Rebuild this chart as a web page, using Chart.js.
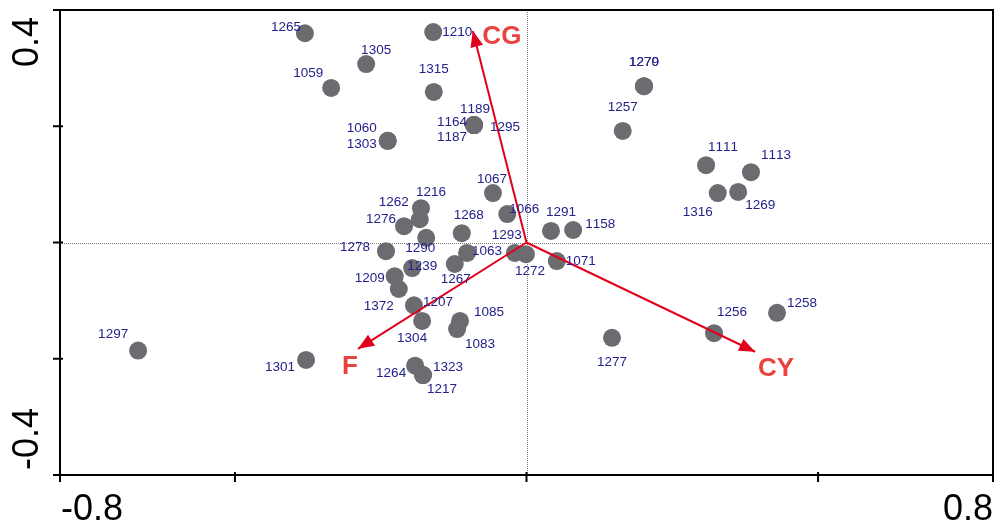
<!DOCTYPE html>
<html>
<head>
<meta charset="utf-8">
<script src="https://cdn.jsdelivr.net/npm/chart.js@4/dist/chart.umd.min.js"></script>
<style>
  html, body { margin: 0; padding: 0; background: #ffffff; }
  canvas { display: block; }
</style>
</head>
<body>
<canvas id="ordination" width="998" height="528"></canvas>
<script>
// Sample scores on the first two ordination axes
const sampleIds = ['1265','1059','1210','1305','1315','1189','1164','1187','1295','1060','1303','1257',
  '1279','1270','1067','1066','1291','1158','1268','1216','1262','1276','1290','1278','1063','1267',
  '1293','1272','1071','1239','1209','1372','1207','1304','1085','1083','1264','1323','1217','1277',
  '1297','1301','1256','1258','1111','1113','1316','1269'];
const axis1 = [-0.380,-0.335,-0.160,-0.275,-0.159,-0.090,-0.090,-0.090,-0.090,-0.238,-0.238,0.165,
  0.2015,0.2015,-0.0575,-0.033,0.042,0.080,-0.111,-0.181,-0.183,-0.210,-0.172,-0.241,-0.102,-0.123,
  -0.020,-0.001,0.052,-0.196,-0.226,-0.219,-0.193,-0.179,-0.114,-0.119,-0.191,-0.1775,-0.1775,0.1466,
  -0.666,-0.378,0.3216,0.4296,0.308,0.385,0.328,0.363];
const axis2 = [0.360,0.266,0.362,0.307,0.259,0.202,0.202,0.202,0.202,0.175,0.175,0.192,
  0.269,0.269,0.085,0.049,0.020,0.0215,0.016,0.059,0.040,0.028,0.008,-0.015,-0.018,-0.037,
  -0.018,-0.020,-0.032,-0.044,-0.058,-0.080,-0.108,-0.135,-0.135,-0.149,-0.212,-0.228,-0.228,-0.164,
  -0.186,-0.202,-0.156,-0.121,0.133,0.121,0.085,0.087];

// Environmental variable vectors
const vectorNames = ['CG', 'F', 'CY'];
const vectorX = [-0.092, -0.289, 0.392];
const vectorY = [0.364, -0.183, -0.188];

// Axis ticks
const xTickValues = [-0.8, -0.5, 0, 0.5, 0.8];
const xTickLabels = ['-0.8', '', '', '', '0.8'];
const yTickValues = [-0.4, -0.2, 0, 0.2, 0.4];
const yTickLabels = ['-0.4', '', '', '', '0.4'];

// Label placement around each marker (pixel shift of the label centre)
const labelShift = [[-19,-6],[-23,-15],[24,0],[10,-14],[0,-23],[1,-16],[-22,-3],[-22,12],[31,2],[-26,-13],[-26,3],[0,-24],
  [0,-24],[0,-24],[-1,-14],[17,-5],[10,-19],[27,-6],[7,-18],[10,-16],[-26,-17],[-23,-7],[-6,10],[-31,-4],[20,-2],[1,15],
  [-8,-18],[4,17],[24,0],[10,-2],[-25,2],[-20,17],[24,-3],[-10,17],[29,-9],[23,15],[-24,8],[25,-8],[19,14],[0,24],
  [-25,-16],[-26,7],[18,-21],[25,-10],[17,-18],[25,-17],[-20,19],[22,13]];
const vectorLabelShift = [[29,6],[-8,18],[21,17]];

const FONT = '"Liberation Sans", Arial, sans-serif';
const SAMPLE_TEXT = '#22228a';
const POINT_GRAY = '#6b6b70';
const VECTOR_RED = '#e0001b';
const VECTOR_TEXT = '#e8433f';

const samplePoints = sampleIds.map((id, i) => ({ x: axis1[i], y: axis2[i] }));

const vectorDatasets = vectorNames.map((name, i) => ({
  type: 'line',
  label: name,
  data: [{ x: 0, y: 0 }, { x: vectorX[i], y: vectorY[i] }],
  borderColor: VECTOR_RED,
  borderWidth: 2,
  pointRadius: 0,
  fill: false,
  order: 0
}));

const ordinationDecor = {
  id: 'ordinationDecor',
  beforeDatasetsDraw(chart) {
    const { ctx, chartArea: a, scales: { x, y } } = chart;
    const x0 = x.getPixelForValue(0);
    const y0 = y.getPixelForValue(0);
    ctx.save();
    ctx.strokeStyle = '#7a7a7a';
    ctx.lineWidth = 1;
    ctx.setLineDash([1, 1]);
    ctx.beginPath();
    ctx.moveTo(Math.round(x0) + 0.5, a.top);
    ctx.lineTo(Math.round(x0) + 0.5, a.bottom);
    ctx.moveTo(a.left, Math.round(y0) + 0.5);
    ctx.lineTo(a.right, Math.round(y0) + 0.5);
    ctx.stroke();
    ctx.restore();
  },
  afterDatasetsDraw(chart) {
    const { ctx, chartArea: a, scales: { x, y } } = chart;
    ctx.save();
    if ('fontKerning' in ctx) ctx.fontKerning = 'none';

    // arrowheads and vector names
    vectorNames.forEach((name, i) => {
      const meta = chart.getDatasetMeta(1 + i);
      const p0 = meta.data[0], p1 = meta.data[1];
      const ang = Math.atan2(p1.y - p0.y, p1.x - p0.x);
      const len = 16, half = 6.5;
      ctx.fillStyle = VECTOR_RED;
      ctx.beginPath();
      ctx.moveTo(p1.x, p1.y);
      ctx.lineTo(p1.x - len * Math.cos(ang) + half * Math.sin(ang), p1.y - len * Math.sin(ang) - half * Math.cos(ang));
      ctx.lineTo(p1.x - len * Math.cos(ang) - half * Math.sin(ang), p1.y - len * Math.sin(ang) + half * Math.cos(ang));
      ctx.closePath();
      ctx.fill();
      ctx.fillStyle = VECTOR_TEXT;
      ctx.font = 'bold 26px ' + FONT;
      ctx.textAlign = 'center';
      ctx.textBaseline = 'middle';
      ctx.fillText(name, p1.x + vectorLabelShift[i][0], p1.y + vectorLabelShift[i][1]);
    });

    // sample labels
    const meta = chart.getDatasetMeta(0);
    ctx.fillStyle = SAMPLE_TEXT;
    ctx.font = '13.5px ' + FONT;
    ctx.textAlign = 'center';
    ctx.textBaseline = 'middle';
    sampleIds.forEach((id, i) => {
      const el = meta.data[i];
      ctx.fillText(id, el.x + labelShift[i][0], el.y + labelShift[i][1]);
    });

    // frame
    ctx.strokeStyle = '#000000';
    ctx.lineWidth = 2;
    ctx.setLineDash([]);
    ctx.strokeRect(a.left, a.top, a.right - a.left, a.bottom - a.top);

    // tick marks
    ctx.beginPath();
    xTickValues.forEach(v => {
      const px = x.getPixelForValue(v);
      ctx.moveTo(px, a.bottom - 3);
      ctx.lineTo(px, a.bottom + 7);
    });
    yTickValues.forEach(v => {
      const py = y.getPixelForValue(v);
      ctx.moveTo(a.left - 7, py);
      ctx.lineTo(a.left + 3, py);
    });
    ctx.stroke();

    // tick labels
    ctx.fillStyle = '#000000';
    ctx.font = '36px ' + FONT;
    ctx.textBaseline = 'alphabetic';
    xTickValues.forEach((v, i) => {
      if (!xTickLabels[i]) return;
      const px = x.getPixelForValue(v);
      ctx.textAlign = i === 0 ? 'left' : 'right';
      ctx.fillText(xTickLabels[i], i === 0 ? px + 1 : px, 520);
    });
    yTickValues.forEach((v, i) => {
      if (!yTickLabels[i]) return;
      const py = y.getPixelForValue(v);
      ctx.save();
      ctx.translate(28, i === 0 ? py - 5 : py + 7);
      ctx.rotate(-Math.PI / 2);
      ctx.textAlign = i === 0 ? 'left' : 'right';
      ctx.textBaseline = 'middle';
      ctx.fillText(yTickLabels[i], 0, 0);
      ctx.restore();
    });
    ctx.restore();
  }
};

new Chart(document.getElementById('ordination'), {
  type: 'scatter',
  data: {
    datasets: [
      {
        label: 'samples',
        data: samplePoints,
        backgroundColor: POINT_GRAY,
        borderWidth: 0,
        pointRadius: 9,
        pointHoverRadius: 9,
        order: 1
      },
      ...vectorDatasets
    ]
  },
  options: {
    responsive: false,
    devicePixelRatio: 1,
    animation: false,
    events: [],
    layout: { autoPadding: false, padding: { left: 60, top: 10, right: 5, bottom: 53 } },
    plugins: { legend: { display: false }, tooltip: { enabled: false } },
    scales: {
      x: { type: 'linear', min: -0.8, max: 0.8, display: false },
      y: { type: 'linear', min: -0.4, max: 0.4, display: false }
    }
  },
  plugins: [ordinationDecor]
});
</script>
</body>
</html>
